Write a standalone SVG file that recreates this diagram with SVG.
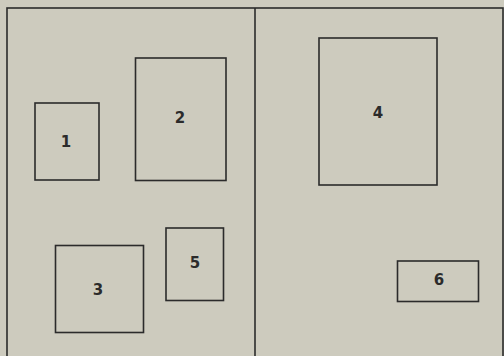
<svg xmlns="http://www.w3.org/2000/svg" width="504" height="356" viewBox="0 0 504 356">
<style>
.b{fill:none;stroke:#2b2b2b;stroke-width:1.6}
.t{font-family:"DejaVu Sans","Liberation Sans",sans-serif;font-weight:bold;font-size:15px;fill:#2b2b2b;text-anchor:middle;dominant-baseline:central}
</style>
<rect width="504" height="356" fill="#cdcbbe"/>
<g id="frame">
<rect class="b" x="7" y="8" width="496" height="350"/>
<line class="b" x1="255" y1="8" x2="255" y2="358"/>
</g>
<g id="n1"><rect class="b" x="35" y="103" width="64" height="77"/><text class="t" x="66" y="142">1</text></g>
<g id="n2"><rect class="b" x="135.5" y="58" width="90.5" height="122.5"/><text class="t" x="180" y="118">2</text></g>
<g id="n3"><rect class="b" x="55.5" y="245.5" width="88" height="87"/><text class="t" x="98" y="290">3</text></g>
<g id="n4"><rect class="b" x="319" y="38" width="118" height="147"/><text class="t" x="378" y="113">4</text></g>
<g id="n5"><rect class="b" x="166" y="228" width="57.5" height="72.5"/><text class="t" x="195" y="263">5</text></g>
<g id="n6"><rect class="b" x="397.5" y="261" width="81" height="40.5"/><text class="t" x="439" y="280">6</text></g>
<g id="connectors"/>
</svg>
